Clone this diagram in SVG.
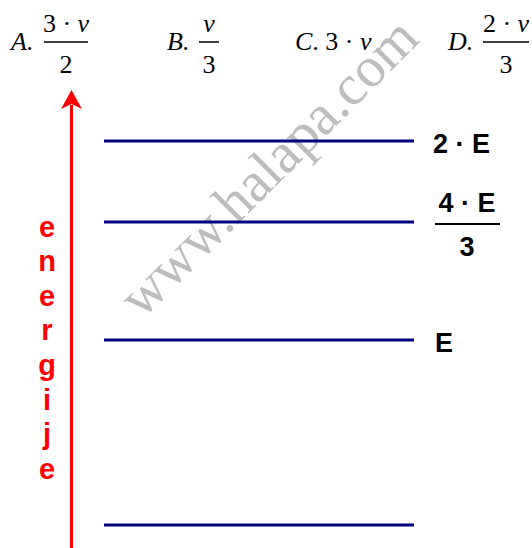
<svg xmlns="http://www.w3.org/2000/svg" width="532" height="548" viewBox="0 0 532 548">
<defs>
<style>
.wm{font-family:"Liberation Serif","Times New Roman",serif;font-size:57px;fill:#bdbdbd;}
.t{font-family:"Liberation Serif","Times New Roman",serif;font-size:26px;fill:#000;}
.i{font-style:italic;}
.fr{stroke:#000;stroke-width:1.5;}
.lvl{stroke:#000080;stroke-width:3;}
.lab{font-family:"Liberation Sans",Arial,sans-serif;font-weight:bold;font-size:27px;fill:#000;}
.en{font-family:"Liberation Sans",Arial,sans-serif;font-weight:bold;font-size:29px;fill:#ff0000;text-anchor:middle;}
</style>
</defs>
<rect width="532" height="548" fill="#fff"/>
<text class="wm" transform="translate(142,320) rotate(-45)">www.halapa.com</text>
<g id="answers">
<g id="optA">
<text class="t i" x="11" y="50">A.</text>
<text class="t" x="66" y="32" text-anchor="middle">3 · <tspan class="i">ν</tspan></text>
<line class="fr" x1="44" y1="42" x2="88" y2="42"/>
<text class="t" x="66" y="73" text-anchor="middle">2</text>
</g>
<g id="optB">
<text class="t i" x="167" y="50">B.</text>
<text class="t i" x="209" y="32" text-anchor="middle">ν</text>
<line class="fr" x1="199" y1="42" x2="219" y2="42"/>
<text class="t" x="209" y="73" text-anchor="middle">3</text>
</g>
<g id="optC">
<text class="t" x="295" y="50"><tspan class="i">C</tspan>. 3 · <tspan class="i">ν</tspan></text>
</g>
<g id="optD">
<text class="t i" x="448" y="50">D.</text>
<text class="t" x="506" y="32" text-anchor="middle">2 · <tspan class="i">ν</tspan></text>
<line class="fr" x1="483" y1="42" x2="529" y2="42"/>
<text class="t" x="506" y="73" text-anchor="middle">3</text>
</g>
</g>
<g id="levels">
<line class="lvl" x1="104" y1="141" x2="414" y2="141"/>
<line class="lvl" x1="104" y1="222" x2="414" y2="222"/>
<line class="lvl" x1="104" y1="340" x2="414" y2="340"/>
<line class="lvl" x1="104" y1="525" x2="414" y2="525"/>
</g>
<g id="labels">
<text class="lab" x="433" y="153">2 · E</text>
<text class="lab" x="467" y="212" text-anchor="middle">4 · E</text>
<line x1="435" y1="224" x2="500" y2="224" stroke="#000" stroke-width="2"/>
<text class="lab" x="467" y="256" text-anchor="middle">3</text>
<text class="lab" x="435" y="352">E</text>
</g>
<g id="axis">
<line x1="71.5" y1="105" x2="71.5" y2="548" stroke="#ff0000" stroke-width="3"/>
<polygon points="71.5,90 82,109 71.5,104 61,109" fill="#ff0000"/>
<text class="en" x="47" y="237">e</text>
<text class="en" x="47" y="271">n</text>
<text class="en" x="47" y="306">e</text>
<text class="en" x="47" y="340">r</text>
<text class="en" x="47" y="375">g</text>
<text class="en" x="47" y="410">i</text>
<text class="en" x="47" y="444">j</text>
<text class="en" x="47" y="479">e</text>
</g>
</svg>
